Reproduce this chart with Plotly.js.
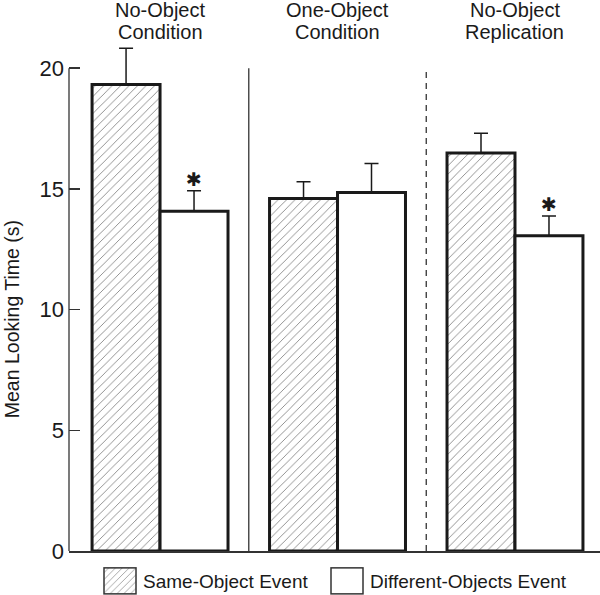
<!DOCTYPE html>
<html>
<head>
<meta charset="utf-8">
<script src="https://cdn.plot.ly/plotly-3.0.1.min.js"></script>
<style>html,body{margin:0;padding:0;background:#fff;}#chart{width:600px;height:595px;}</style>
</head>
<body>
<div id="chart"></div>
<script>
// ---- data ----
const conditions = ['No-Object Condition', 'One-Object Condition', 'No-Object Replication'];
const labelLine1 = ['No-Object', 'One-Object', 'No-Object'];
const labelLine2 = ['Condition', 'Condition', 'Replication'];
const seriesNames = ['Same-Object Event', 'Different-Objects Event'];
const sameObject = [19.32, 14.60, 16.49];
const sameObjectErr = [1.50, 0.69, 0.81];
const differentObjects = [14.07, 14.85, 13.06];
const differentObjectsErr = [0.85, 1.20, 0.82];
const significant = [true, false, true]; // asterisk over Different-Objects bar
const yTicks = [0, 5, 10, 15, 20];
const yTitle = 'Mean Looking Time (s)';

const FONT = 'Liberation Sans, Arial, Helvetica, sans-serif';
const ink = '#1a1a1a';

const traces = [
  {
    type: 'bar', name: seriesNames[0], x: conditions, y: sameObject,
    marker: {color: '#ffffff', line: {color: ink, width: 3},
             pattern: {shape: '/', fgcolor: '#6a6a6a', bgcolor: '#ffffff', size: 6, solidity: 0.12}},
    error_y: {type: 'data', symmetric: false, array: sameObjectErr, arrayminus: [0,0,0],
              color: ink, thickness: 1.5, width: 7}
  },
  {
    type: 'bar', name: seriesNames[1], x: conditions, y: differentObjects,
    marker: {color: '#ffffff', line: {color: ink, width: 3}},
    error_y: {type: 'data', symmetric: false, array: differentObjectsErr, arrayminus: [0,0,0],
              color: ink, thickness: 1.5, width: 7}
  }
];

const annotations = [];
conditions.forEach((c, i) => {
  annotations.push({
    text: labelLine1[i], x: i, xref: 'x', y: 1, yref: 'paper', yanchor: 'middle', yshift: 34,
    showarrow: false, font: {family: FONT, size: 20, color: ink}
  });
  annotations.push({
    text: labelLine2[i], x: i, xref: 'x', y: 1, yref: 'paper', yanchor: 'middle', yshift: 12,
    showarrow: false, font: {family: FONT, size: 20, color: ink}
  });
});
significant.forEach((s, i) => {
  if (s) annotations.push({
    text: '✱', x: i + 0.192, xref: 'x', y: differentObjects[i] + differentObjectsErr[i], yref: 'y',
    yanchor: 'bottom', yshift: -1, showarrow: false, font: {family: 'DejaVu Sans', size: 19, color: ink}
  });
});
annotations.push({
  text: yTitle, textangle: -90, x: 0, xref: 'paper', xanchor: 'center', xshift: -57,
  y: 9.6, yref: 'y', yanchor: 'middle',
  showarrow: false, font: {family: FONT, size: 19.5, color: ink}
});

const shapes = [
  {type: 'line', xref: 'paper', x0: 0, x1: 0, yref: 'y', y0: 0, y1: 20, line: {color: '#333', width: 1.3}},
  {type: 'line', xref: 'x', x0: 0.5, x1: 0.5, yref: 'y', y0: 0, y1: 20, line: {color: '#333', width: 1.3}},
  {type: 'line', xref: 'x', x0: 1.5, x1: 1.5, yref: 'y', y0: 0, y1: 20, line: {color: '#333', width: 1.3, dash: '6px,5px'}}
];

const layout = {
  width: 600, height: 595,
  margin: {l: 69, r: 0, t: 44, b: 44, autoexpand: false},
  paper_bgcolor: '#fff', plot_bgcolor: '#fff',
  font: {family: FONT, color: ink},
  barmode: 'group', bargap: 0.234, bargroupgap: 0,
  showlegend: true,
  legend: {orientation: 'h', x: 0.5, xanchor: 'center', yref: 'container', y: 0.0235, yanchor: 'middle',
           font: {family: FONT, size: 19, color: ink}, traceorder: 'normal', itemwidth: 30},
  xaxis: {type: 'category', range: [-0.513, 2.479], showticklabels: false, ticks: '',
          showline: true, linecolor: '#333', linewidth: 1.5, showgrid: false, zeroline: false, fixedrange: true},
  yaxis: {range: [0, 21], tickvals: yTicks, ticktext: yTicks.map(String), ticks: 'inside', ticklen: 11,
          tickcolor: '#333', tickwidth: 1.3, showline: false, showgrid: false, zeroline: false,
          ticklabelstandoff: 4,
          tickfont: {family: FONT, size: 22, color: ink}, fixedrange: true},
  annotations: annotations,
  shapes: shapes
};

const SVGNS = 'http://www.w3.org/2000/svg';
Plotly.newPlot('chart', traces, layout, {displayModeBar: false, staticPlot: true}).then(gd => {
  // remove legend clipping so shifted entries stay fully visible
  gd.querySelectorAll('.legend [clip-path]').forEach(el => el.removeAttribute('clip-path'));
  const legend = gd.querySelector('.legend');
  if (legend) legend.removeAttribute('clip-path');
  // place legend entries and enlarge their swatches like the reference
  const textLeft = [143, 370];
  gd.querySelectorAll('.legend .traces').forEach((g, i) => {
    const t = g.querySelector('text');
    if (t && textLeft[i] !== undefined) {
      const r = t.getBoundingClientRect();
      const dx = textLeft[i] - r.left;
      const m = /translate\(\s*([-\d.eE]+)[ ,]+([-\d.eE]+)\s*\)/.exec(g.getAttribute('transform') || '');
      const x = m ? +m[1] : 0, y = m ? +m[2] : 0;
      g.setAttribute('transform', 'translate(' + (x + dx) + ',' + y + ')');
    }
    g.querySelectorAll('.legendpoints path').forEach(p => {
      p.setAttribute('d', 'M13,13H-19V-13H13Z');
      p.style.setProperty('stroke-width', '0px', 'important');
      const rect = document.createElementNS(SVGNS, 'rect');
      rect.setAttribute('x', -19); rect.setAttribute('y', -13);
      rect.setAttribute('width', 32); rect.setAttribute('height', 26);
      rect.setAttribute('fill', 'none');
      rect.setAttribute('stroke', '#333');
      rect.setAttribute('stroke-width', '1.5');
      const tr = p.getAttribute('transform');
      if (tr) rect.setAttribute('transform', tr);
      p.parentNode.appendChild(rect);
    });
  });
});
</script>
</body>
</html>
